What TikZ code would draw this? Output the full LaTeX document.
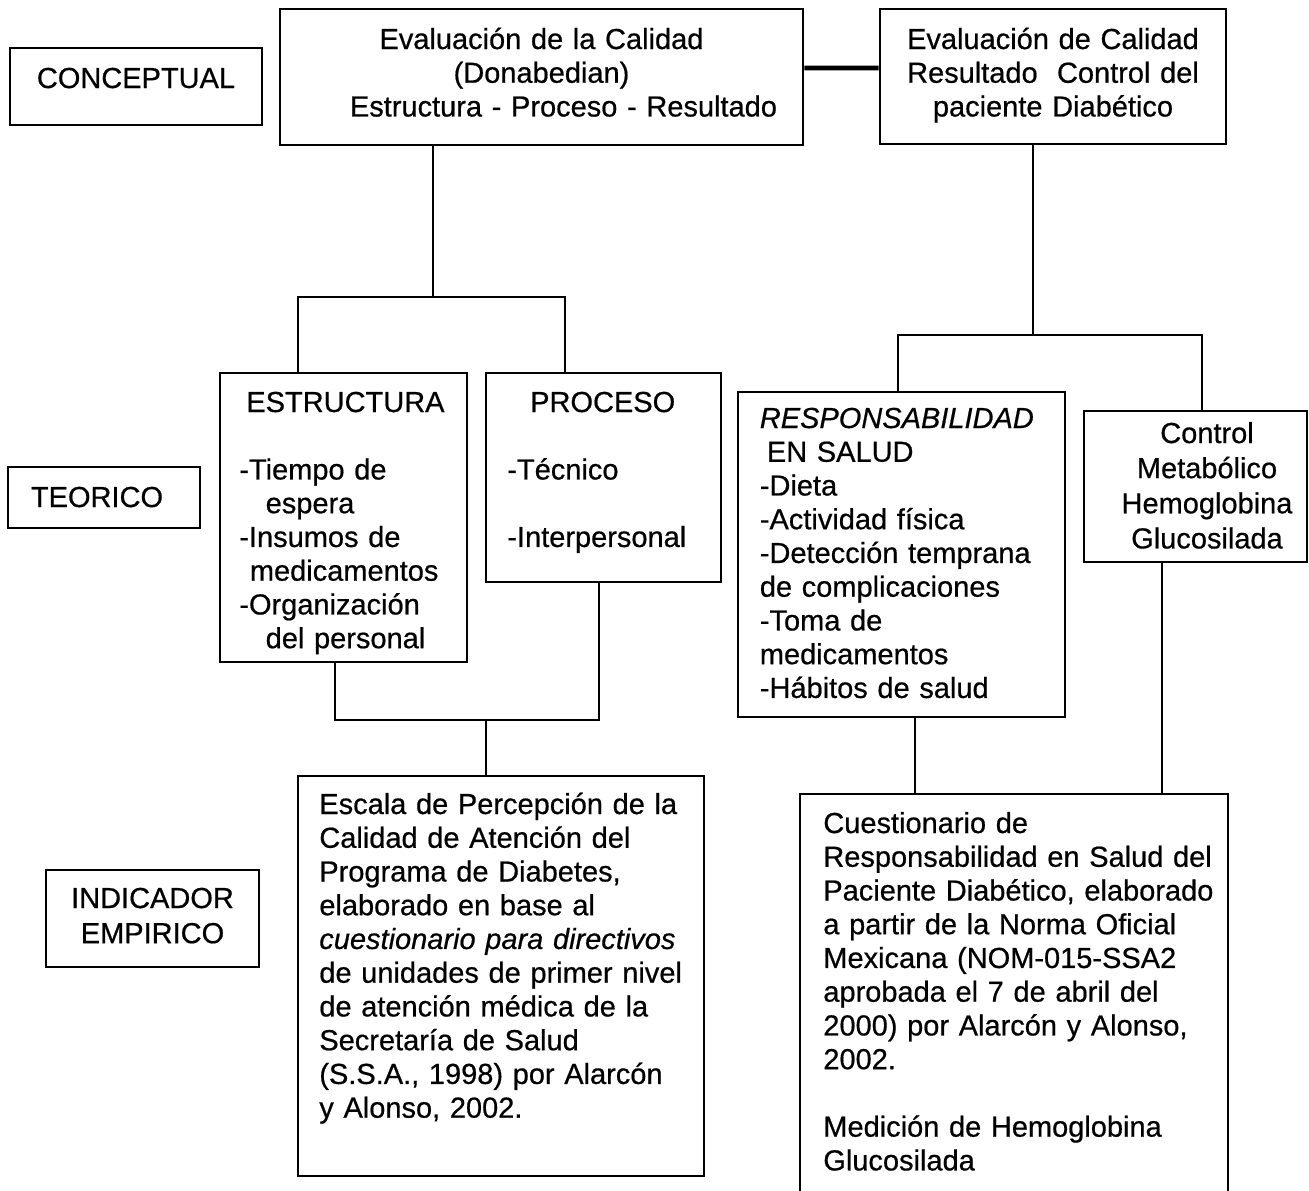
\documentclass[tikz,border=0pt]{standalone}
\usepackage{fontspec}
\setmainfont{Liberation Sans}[FakeBold=0.6]
\usetikzlibrary{positioning}

\begin{document}
\begin{tikzpicture}[
    box/.style={draw, line width=1.5pt, inner sep=0pt},
    txt/.style={inner sep=0pt, font=\fontsize{16.5}{19.2}\selectfont},
    lefttxt/.style={txt, anchor=base west, align=left},
    midtxt/.style={txt, anchor=base, align=center},
    link/.style={line width=1.3pt}
  ]
  \useasboundingbox (0,0) rectangle (26.18,-23.8);

  % Level labels
  \node[box, minimum width=5.04cm, minimum height=1.54cm] (concep) at (2.72,-1.73) {};
  \node[midtxt, text width=4.8cm] (concepT) at (2.72,-1.76) {CONCEPTUAL};
  \node[box, minimum width=3.84cm, minimum height=1.22cm] (teor) at (2.08,-9.95) {};
  \node[midtxt, text width=3.6cm] (teorT) at (1.94,-10.14) {TEORICO};
  \node[box, minimum width=4.26cm, minimum height=1.94cm] (indic) at (3.05,-18.37) {};
  \node[midtxt, text width=4cm, font=\fontsize{16.5}{20}\selectfont] (indicT) at (3.05,-18.16) {INDICADOR\\EMPIRICO};

  % Conceptual level
  \node[box, minimum width=10.46cm, minimum height=2.72cm] (donab) at (10.83,-1.54) {};
  \node[midtxt, text width=10cm] (donabT) at (10.83,-0.98) {Evaluación de la Calidad\\(Donabedian)\\\hspace*{25pt}Estructura - Proceso - Resultado};
  \node[box, minimum width=6.92cm, minimum height=2.70cm] (result) at (21.06,-1.53) {};
  \node[midtxt, text width=6.6cm] (resultT) at (21.06,-0.98) {Evaluación de Calidad\\Resultado\ \ Control del\\paciente Diabético};

  % Theoretical level
  \node[box, minimum width=4.94cm, minimum height=5.78cm] (estr) at (6.87,-10.35) {};
  \node[lefttxt, text width=4.5cm] (estrT) at (4.78,-8.24) {\hspace*{4pt}ESTRUCTURA\\[\baselineskip]
    -Tiempo de\\\hspace*{15pt}espera\\-Insumos de\\\hspace*{6pt}medicamentos\\-Organización\\\hspace*{15pt}del personal};
  \node[box, minimum width=4.70cm, minimum height=4.18cm] (proc) at (12.07,-9.55) {};
  \node[lefttxt, text width=4.2cm] (procT) at (10.14,-8.24) {\hspace*{13pt}PROCESO\\[\baselineskip]-Técnico\\[\baselineskip]-Interpersonal};
  \node[box, minimum width=6.54cm, minimum height=6.50cm] (resp) at (18.03,-11.09) {};
  \node[lefttxt, text width=6cm] (respT) at (15.19,-8.56) {\textit{RESPONSABILIDAD}\\\hspace*{4pt}EN SALUD\\-Dieta\\-Actividad física\\
    -Detección temprana\\de complicaciones\\-Toma de\\medicamentos\\-Hábitos de salud};
  \node[box, minimum width=4.46cm, minimum height=3.02cm] (ctrl) at (23.91,-9.73) {};
  \node[midtxt, text width=4.2cm, font=\fontsize{16.5}{20}\selectfont] (ctrlT) at (24.14,-8.86) {Control\\Metabólico\\Hemoglobina\\Glucosilada};

  % Empirical level
  \node[box, minimum width=8.12cm, minimum height=8.00cm] (escala) at (10.02,-19.52) {};
  \node[lefttxt, text width=7.6cm] (escalaT) at (6.38,-16.28) {Escala de Percepción de la\\Calidad de Atención del\\Programa de Diabetes,\\
    elaborado en base al\\\textit{cuestionario para directivos}\\de unidades de primer nivel\\de atención médica de la\\
    Secretaría de Salud\\(S.S.A., 1998) por Alarcón\\y Alonso, 2002.};
  \node[box, minimum width=8.56cm, minimum height=8.12cm] (cuest) at (20.28,-19.94) {};
  \node[lefttxt, text width=8.2cm] (cuestT) at (16.46,-16.66) {Cuestionario de\\Responsabilidad en Salud del\\Paciente Diabético, elaborado\\
    a partir de la Norma Oficial\\Mexicana (NOM-015-SSA2\\aprobada el 7 de abril del\\2000) por Alarcón y Alonso,\\2002.\\[\baselineskip]
    Medición de Hemoglobina\\Glucosilada};

  % Junctions
  \coordinate (jA) at (8.66,-5.94);
  \coordinate (jA1) at (5.96,-5.94);
  \coordinate (jA2) at (11.30,-5.94);
  \coordinate (jB) at (20.66,-6.70);
  \coordinate (jB1) at (17.96,-6.70);
  \coordinate (jB2) at (24.04,-6.70);
  \coordinate (jC) at (9.72,-14.40);
  \coordinate (jC1) at (6.70,-14.40);
  \coordinate (jC2) at (11.98,-14.40);
  \coordinate (jD1) at (18.30,-15.20);
  \coordinate (jD2) at (23.24,-15.20);

  % Connectors
  \draw[line width=2.6pt] ([yshift=0.18cm]donab.east) -- ([yshift=0.17cm]result.west);
  \draw[link] (donab.south -| jA) -- (jA);
  \draw[link] (estr.north -| jA1) -- (jA1) -- (jA2) -- (proc.north -| jA2);
  \draw[link] (result.south -| jB) -- (jB);
  \draw[link] (resp.north -| jB1) -- (jB1) -- (jB2) -- (ctrl.north -| jB2);
  \draw[link] (estr.south -| jC1) -- (jC1) -- (jC2) -- (proc.south -| jC2);
  \draw[link] (jC) -- (escala.north -| jC);
  \draw[link] (resp.south -| jD1) -- (cuest.north -| jD1);
  \draw[link] (ctrl.south -| jD2) -- (cuest.north -| jD2);
\end{tikzpicture}
\end{document}
